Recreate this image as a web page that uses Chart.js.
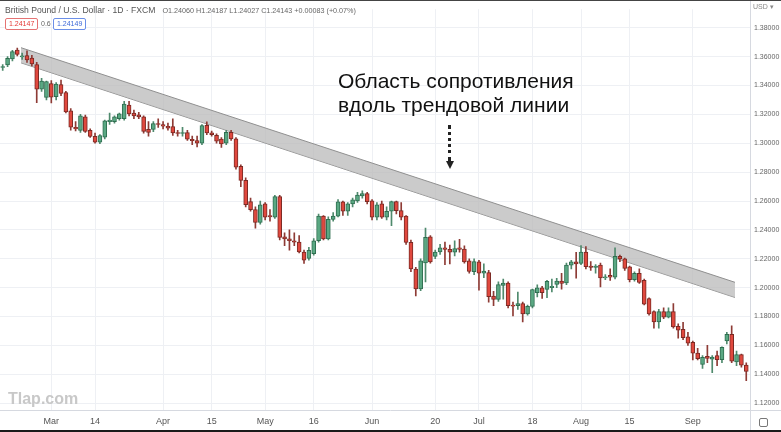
<!DOCTYPE html>
<html lang="ru">
<head>
    <meta charset="UTF-8">
    <title>GBPUSD 1D</title>
    <script src="https://cdn.jsdelivr.net/npm/chart.js"></script>
    <style>
        body { margin: 0; background: #fff; font-family: 'Liberation Sans', Arial, sans-serif; }
        #wrap { position: relative; width: 781px; height: 432px; overflow: hidden; border-top: 1px solid #444; box-sizing: border-box; }
        #wrap canvas { position: absolute; left: 0; top: 0; }
        .ov { position: absolute; white-space: nowrap; }
        .title { left: 5px; top: 4px; font-size: 8.6px; color: #555; }
        .title span { font-size: 7.2px; margin-left: 7px; color: #666; }
        .box { top: 17px; height: 10px; line-height: 10px; font-size: 7px; padding: 0 3px; border-radius: 2px; background: #fff; }
        .note { left: 338px; font-size: 21px; color: #111; }
        .arrow { left: 448px; top: 124px; width: 0; height: 36px; border-left: 3px dotted #222; }
        .head { left: 446px; top: 160px; width: 0; height: 0; border-left: 4px solid transparent; border-right: 4px solid transparent; border-top: 8px solid #222; }
        .wm { left: 8px; top: 389px; font-size: 16px; font-weight: bold; color: #c8c8c8; }
        .usd { left: 753px; top: 2px; font-size: 7px; color: #888; }
        .icon { left: 759px; top: 417px; width: 7px; height: 7px; border: 1px solid #777; border-radius: 2px; }
        .bottom { left: 0; top: 429px; width: 781px; height: 3px; background: #1a1a1a; }
    </style>
</head>
<body>
<div id="wrap">
    <canvas id="chart"></canvas>
    <div class="ov title">British Pound / U.S. Dollar · 1D · FXCM<span>O1.24060 H1.24187 L1.24027 C1.24143 +0.00083 (+0.07%)</span></div>
    <div class="ov box" style="left:5px; border:1px solid #e57373; color:#e53935;">1.24147</div>
    <div class="ov" style="left:41px; top:17px; font-size:7px; line-height:12px; color:#666;">0.6</div>
    <div class="ov box" style="left:53px; border:1px solid #6b8fe8; color:#3f6ad8;">1.24149</div>
    <div class="ov note" style="top:68px;">Область сопротивления</div>
    <div class="ov note" style="top:92px;">вдоль трендовой линии</div>
    <div class="ov arrow"></div>
    <div class="ov head"></div>
    <div class="ov wm">Tlap.com</div>
    <div class="ov usd">USD ▾</div>
    <div class="ov icon"></div>
    <div class="ov bottom"></div>
</div>

<script>
    // Дни (индекс свечи = позиция на оси X)
    const dates = [
        'Feb 15','Feb 16','Feb 17','Feb 18','Feb 21','Feb 22','Feb 23','Feb 24','Feb 25','Feb 28',
        'Mar 1','Mar 2','Mar 3','Mar 4','Mar 7','Mar 8','Mar 9','Mar 10','Mar 11','Mar 14',
        'Mar 15','Mar 16','Mar 17','Mar 18','Mar 21','Mar 22','Mar 23','Mar 24','Mar 25','Mar 28',
        'Mar 29','Mar 30','Mar 31','Apr 1','Apr 4','Apr 5','Apr 6','Apr 7','Apr 8','Apr 11',
        'Apr 12','Apr 13','Apr 14','Apr 15','Apr 18','Apr 19','Apr 20','Apr 21','Apr 22','Apr 25',
        'Apr 26','Apr 27','Apr 28','Apr 29','May 2','May 3','May 4','May 5','May 6','May 9',
        'May 10','May 11','May 12','May 13','May 16','May 17','May 18','May 19','May 20','May 23',
        'May 24','May 25','May 26','May 27','May 30','May 31','Jun 1','Jun 2','Jun 3','Jun 6',
        'Jun 7','Jun 8','Jun 9','Jun 10','Jun 13','Jun 14','Jun 15','Jun 16','Jun 17','Jun 20',
        'Jun 21','Jun 22','Jun 23','Jun 24','Jun 27','Jun 28','Jun 29','Jun 30','Jul 1','Jul 4',
        'Jul 5','Jul 6','Jul 7','Jul 8','Jul 11','Jul 12','Jul 13','Jul 14','Jul 15','Jul 18',
        'Jul 19','Jul 20','Jul 21','Jul 22','Jul 25','Jul 26','Jul 27','Jul 28','Jul 29','Aug 1',
        'Aug 2','Aug 3','Aug 4','Aug 5','Aug 8','Aug 9','Aug 10','Aug 11','Aug 12','Aug 15',
        'Aug 16','Aug 17','Aug 18','Aug 19','Aug 22','Aug 23','Aug 24','Aug 25','Aug 26','Aug 29',
        'Aug 30','Aug 31','Sep 1','Sep 2','Sep 5','Sep 6','Sep 7','Sep 8','Sep 9','Sep 12',
        'Sep 13','Sep 14','Sep 15','Sep 16'
    ];

    const opens = [
        1.3525,1.3542,1.3584,1.3646,1.3598,1.3608,1.3590,1.3545,1.3375,1.3318,
        1.3413,1.3322,1.3406,1.3352,1.3224,1.3111,1.3089,1.3183,1.3089,1.3048,
        1.3007,1.3043,1.3150,1.3150,1.3170,1.3170,1.3265,1.3210,1.3197,1.3183,
        1.3096,1.3096,1.3136,1.3130,1.3118,1.3115,1.3071,1.3068,1.3074,1.3028,
        1.3018,1.3001,1.3125,1.3072,1.3055,1.3029,1.3000,1.3075,1.3030,1.2840,
        1.2743,1.2596,1.2540,1.2452,1.2581,1.2500,1.2488,1.2630,1.2352,1.2338,
        1.2325,1.2315,1.2247,1.2202,1.2236,1.2325,1.2495,1.2337,1.2472,1.2495,
        1.2594,1.2529,1.2580,1.2601,1.2635,1.2651,1.2601,1.2488,1.2581,1.2488,
        1.2529,1.2596,1.2533,1.2495,1.2314,1.2129,1.1992,1.2172,1.2352,1.2217,
        1.2247,1.2276,1.2265,1.2245,1.2275,1.2267,1.2186,1.2110,1.2179,1.2100,
        1.2105,1.1942,1.1919,1.2015,1.2032,1.1880,1.1875,1.1890,1.1818,1.1870,
        1.1965,1.1999,1.1987,1.2000,1.2022,1.2045,1.2032,1.2156,1.2179,1.2168,
        1.2247,1.2150,1.2140,1.2156,1.2067,1.2085,1.2073,1.2217,1.2199,1.2145,
        1.2055,1.2100,1.2051,1.1924,1.1834,1.1762,1.1834,1.1796,1.1834,1.1733,
        1.1712,1.1660,1.1622,1.1547,1.1469,1.1525,1.1505,1.1530,1.1502,1.1631,
        1.1676,1.1486,1.1536,1.1463
    ];
    const highs = [
        1.3545,1.3600,1.3643,1.3660,1.3625,1.3640,1.3610,1.3560,1.3450,1.3430,
        1.3435,1.3420,1.3438,1.3360,1.3240,1.3150,1.3200,1.3195,1.3100,1.3070,
        1.3060,1.3160,1.3210,1.3190,1.3210,1.3290,1.3290,1.3230,1.3215,1.3190,
        1.3150,1.3150,1.3170,1.3150,1.3140,1.3170,1.3090,1.3110,1.3090,1.3050,
        1.3050,1.3130,1.3148,1.3085,1.3065,1.3040,1.3090,1.3090,1.3040,1.2850,
        1.2760,1.2620,1.2560,1.2600,1.2590,1.2540,1.2640,1.2640,1.2380,1.2400,
        1.2380,1.2360,1.2260,1.2280,1.2340,1.2510,1.2500,1.2490,1.2520,1.2610,
        1.2600,1.2590,1.2620,1.2660,1.2670,1.2660,1.2610,1.2590,1.2600,1.2560,
        1.2600,1.2600,1.2590,1.2500,1.2330,1.2140,1.2200,1.2412,1.2360,1.2260,
        1.2300,1.2315,1.2295,1.2325,1.2335,1.2290,1.2200,1.2200,1.2190,1.2165,
        1.2120,1.1975,1.2040,1.2060,1.2040,1.1900,1.1970,1.1900,1.1880,1.1990,
        1.2020,1.2010,1.2050,1.2060,1.2065,1.2100,1.2170,1.2190,1.2245,1.2292,
        1.2285,1.2180,1.2160,1.2170,1.2090,1.2130,1.2276,1.2225,1.2205,1.2150,
        1.2110,1.2130,1.2060,1.1930,1.1840,1.1850,1.1860,1.1860,1.1890,1.1750,
        1.1760,1.1690,1.1630,1.1580,1.1530,1.1600,1.1530,1.1560,1.1590,1.1690,
        1.1735,1.1560,1.1540,1.1480
    ];
    const lows = [
        1.3505,1.3530,1.3570,1.3605,1.3580,1.3560,1.3535,1.3282,1.3360,1.3300,
        1.3280,1.3300,1.3330,1.3210,1.3090,1.3085,1.3075,1.3075,1.3040,1.3000,
        1.2998,1.3030,1.3130,1.3140,1.3160,1.3160,1.3190,1.3170,1.3170,1.3070,
        1.3050,1.3080,1.3110,1.3100,1.3090,1.3055,1.3050,1.3050,1.3020,1.2990,
        1.2975,1.2990,1.3060,1.3050,1.3000,1.2972,1.2990,1.3020,1.2820,1.2700,
        1.2560,1.2530,1.2412,1.2440,1.2470,1.2460,1.2480,1.2330,1.2290,1.2260,
        1.2290,1.2240,1.2168,1.2190,1.2225,1.2315,1.2330,1.2330,1.2460,1.2490,
        1.2500,1.2500,1.2560,1.2590,1.2620,1.2580,1.2470,1.2470,1.2480,1.2470,
        1.2430,1.2510,1.2470,1.2300,1.2110,1.1942,1.1980,1.2040,1.2170,1.2200,
        1.2230,1.2160,1.2165,1.2220,1.2245,1.2170,1.2100,1.2090,1.1983,1.2070,
        1.1900,1.1875,1.1905,1.1920,1.1860,1.1805,1.1850,1.1762,1.1810,1.1860,
        1.1935,1.1925,1.1930,1.1970,1.2000,1.1990,1.2020,1.2130,1.2065,1.2160,
        1.2130,1.2120,1.2100,1.2005,1.2055,1.2050,1.2060,1.2180,1.2120,1.2040,
        1.2045,1.2030,1.1880,1.1810,1.1720,1.1720,1.1785,1.1790,1.1720,1.1650,
        1.1640,1.1600,1.1500,1.1500,1.1440,1.1480,1.1412,1.1460,1.1480,1.1610,
        1.1480,1.1460,1.1450,1.1356
    ];
    const closes = [
        1.3532,1.3589,1.3635,1.3616,1.3603,1.3578,1.3550,1.3375,1.3430,1.3428,
        1.3319,1.3410,1.3346,1.3217,1.3111,1.3100,1.3190,1.3082,1.3048,1.3007,
        1.3054,1.3156,1.3160,1.3183,1.3204,1.3272,1.3204,1.3190,1.3183,1.3082,
        1.3075,1.3136,1.3130,1.3118,1.3105,1.3071,1.3068,1.3074,1.3028,1.3018,
        1.3001,1.3122,1.3072,1.3060,1.3014,1.2996,1.3075,1.3030,1.2834,1.2743,
        1.2574,1.2540,1.2452,1.2574,1.2488,1.2490,1.2630,1.2348,1.2338,1.2325,
        1.2315,1.2247,1.2190,1.2258,1.2325,1.2495,1.2337,1.2473,1.2495,1.2594,
        1.2529,1.2580,1.2608,1.2642,1.2651,1.2596,1.2488,1.2574,1.2488,1.2529,
        1.2596,1.2533,1.2488,1.2314,1.2129,1.1992,1.2186,1.2348,1.2179,1.2247,
        1.2276,1.2265,1.2245,1.2270,1.2265,1.2179,1.2112,1.2180,1.2100,1.2115,
        1.1938,1.1919,1.2021,1.2032,1.1875,1.1872,1.1890,1.1818,1.1870,1.1987,
        1.1999,1.1965,1.2044,1.2010,1.2045,1.2030,1.2156,1.2179,1.2165,1.2247,
        1.2145,1.2140,1.2150,1.2067,1.2075,1.2072,1.2217,1.2199,1.2134,1.2055,
        1.2100,1.2037,1.1886,1.1818,1.1762,1.1834,1.1796,1.1834,1.1728,1.1706,
        1.1653,1.1615,1.1547,1.1509,1.1518,1.1510,1.1520,1.1502,1.1586,1.1676,
        1.1491,1.1536,1.1463,1.1419
    ];

    // Подписи оси X: индекс свечи и текст
    const tickIdx = [10, 19, 33, 43, 54, 64, 76, 89, 98, 109, 119, 129, 142];
    const tickLabels = ['Mar', '14', 'Apr', '15', 'May', '16', 'Jun', '20', 'Jul', '18', 'Aug', '15', 'Sep'];
    // Цены на правой шкале
    const priceTicks = [1.12, 1.14, 1.16, 1.18, 1.20, 1.22, 1.24, 1.26, 1.28, 1.30, 1.32, 1.34, 1.36, 1.38];

    // Полоса сопротивления (трендовая линия): начало и конец
    const bandX = [3.77, 150.68];
    const bandTop = [1.3662, 1.2037];
    const bandBottom = [1.3557, 1.1932];

    const up = dates.map((d, i) => closes[i] >= opens[i]);

    // Разделительные линии шкал (как в TradingView)
    const axisLines = {
        id: 'axisLines',
        afterDraw(chart) {
            const { ctx, chartArea } = chart;
            ctx.save();
            ctx.strokeStyle = '#d6d9e0';
            ctx.lineWidth = 1;
            ctx.beginPath();
            ctx.moveTo(chartArea.right + 0.5, 0);
            ctx.lineTo(chartArea.right + 0.5, chart.height);
            ctx.moveTo(0, chartArea.bottom + 0.5);
            ctx.lineTo(chart.width, chartArea.bottom + 0.5);
            ctx.stroke();
            ctx.restore();
        }
    };

    const ctx = document.getElementById('chart').getContext('2d');
    const chart = new Chart(ctx, {
        type: 'bar',
        data: {
            datasets: [
                {
                    type: 'line',
                    data: bandX.map((x, i) => ({ x: x, y: bandTop[i] })),
                    borderColor: '#8f8f8f',
                    borderWidth: 1,
                    backgroundColor: 'rgba(185, 185, 185, 0.75)',
                    pointRadius: 0,
                    fill: '+1',
                    order: 3
                },
                {
                    type: 'line',
                    data: bandX.map((x, i) => ({ x: x, y: bandBottom[i] })),
                    borderColor: '#8f8f8f',
                    borderWidth: 1,
                    pointRadius: 0,
                    fill: false,
                    order: 3
                },
                {
                    // фитили
                    data: dates.map((d, i) => ({ x: i, y: [lows[i], highs[i]] })),
                    backgroundColor: up.map(u => u ? '#4f8a6d' : '#8e3b35'),
                    barThickness: 1,
                    grouped: false,
                    order: 2
                },
                {
                    // тела свечей
                    data: dates.map((d, i) => ({ x: i, y: [opens[i], closes[i]] })),
                    backgroundColor: up.map(u => u ? '#5aa883' : '#e0483e'),
                    borderColor: up.map(u => u ? '#2f6e50' : '#7a2a24'),
                    borderWidth: 1,
                    borderSkipped: false,
                    barThickness: 4,
                    minBarLength: 1,
                    grouped: false,
                    order: 1
                }
            ]
        },
        options: {
            responsive: true,
            maintainAspectRatio: false,
            animation: false,
            layout: { padding: 0 },
            plugins: {
                legend: { display: false },
                tooltip: { enabled: false }
            },
            scales: {
                x: {
                    type: 'linear',
                    offset: false,
                    min: -0.556,
                    max: 153.77,
                    afterBuildTicks: scale => {
                        scale.ticks = tickIdx.map(v => ({ value: v }));
                    },
                    afterFit: scale => { scale.height = 22; },
                    ticks: {
                        autoSkip: false,
                        maxRotation: 0,
                        padding: 6,
                        color: '#555',
                        font: { size: 9, family: "'Liberation Sans', Arial, sans-serif" },
                        callback: (v) => tickLabels[tickIdx.indexOf(v)]
                    },
                    grid: { color: '#eef0f4', drawTicks: false, offset: false },
                    border: { display: false }
                },
                y: {
                    position: 'right',
                    min: 1.115265,
                    max: 1.392865,
                    afterBuildTicks: scale => {
                        scale.ticks = priceTicks.map(v => ({ value: v }));
                    },
                    afterFit: scale => { scale.width = 31; },
                    ticks: {
                        padding: 4,
                        color: '#666',
                        font: { size: 7, family: "'Liberation Sans', Arial, sans-serif" },
                        callback: v => v.toFixed(5)
                    },
                    grid: { color: '#eef0f4', drawTicks: false },
                    border: { display: false }
                }
            }
        },
        plugins: [axisLines]
    });
</script>
</body>
</html>
